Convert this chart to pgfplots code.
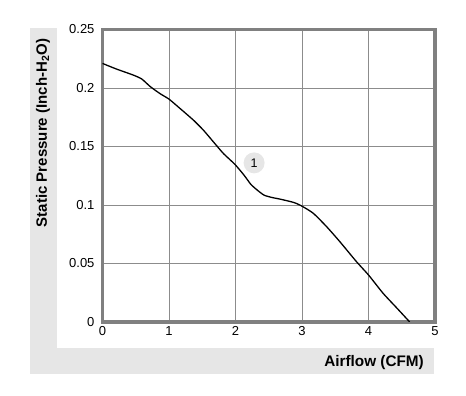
\documentclass[border=0pt]{standalone}
\usepackage{pgfplots}
\pgfplotsset{compat=1.18}
\usepackage{fontspec}
\setmainfont{Liberation Sans}
\definecolor{band}{HTML}{E6E6E6}
\definecolor{frame}{HTML}{808080}
\definecolor{gridc}{HTML}{8C8C8C}
\begin{document}
\begin{tikzpicture}
\path[use as bounding box] (-102.5pt,-74pt) rectangle (363.5pt,322pt);
\fill[band] (-72.5pt,-51.7pt) rectangle (-45.5pt,294pt);
\fill[band] (-72.5pt,-51.7pt) rectangle (331.5pt,-25.7pt);
\begin{axis}[
  at={(0pt,0pt)}, anchor=south west,
  scale only axis, width=332.5pt, height=292.5pt,
  xmin=0, xmax=5, ymin=0, ymax=0.25,
  xtick={0,1,2,3,4,5}, xticklabels={0,1,2,3,4,5},
  ytick={0,0.05,0.1,0.15,0.2,0.25}, yticklabels={0,0.05,0.1,0.15,0.2,0.25},
  grid=major,
  major grid style={color=gridc, line width=0.9pt},
  axis line style={line width=3.6pt, color=frame},
  major tick length=0pt,
  ticklabel style={font=\fontsize{13}{15}\selectfont},
  /pgf/number format/assume math mode=true,
  yticklabel style={xshift=-4.5pt},
  xticklabel style={yshift=-1pt},
]
\addplot[black, line width=1.3pt, smooth, tension=0.35] coordinates {
(0,0.221) (0.21,0.2162) (0.46,0.2111) (0.59,0.2077) (0.72,0.2011) (0.87,0.195)
(1.0,0.1905) (1.17,0.1823) (1.37,0.1724) (1.52,0.1638) (1.67,0.1538) (1.82,0.1439)
(1.99,0.1348) (2.13,0.1254) (2.23,0.1177) (2.33,0.1126) (2.43,0.1084) (2.55,0.1064)
(2.68,0.1049) (2.88,0.1021) (3.0,0.099) (3.17,0.0929) (3.37,0.0815) (3.57,0.0686)
(3.82,0.0515) (4.0,0.0402) (4.22,0.0245) (4.43,0.0117) (4.62,0.0)
};
\node[circle, fill=band, minimum size=21pt, inner sep=0pt, font=\fontsize{12.5}{14}\selectfont] at (axis cs:2.28,0.136) {1};
\end{axis}
\node[rotate=90, font=\fontsize{15}{17}\selectfont\bfseries] at (-59.5pt,189pt) {Static Pressure (Inch-H\textsubscript{2}O)};
\node[anchor=east, font=\fontsize{15.3}{17}\selectfont\bfseries, inner sep=0pt] at (321.5pt,-40.7pt) {Airflow (CFM)};
\end{tikzpicture}
\end{document}
